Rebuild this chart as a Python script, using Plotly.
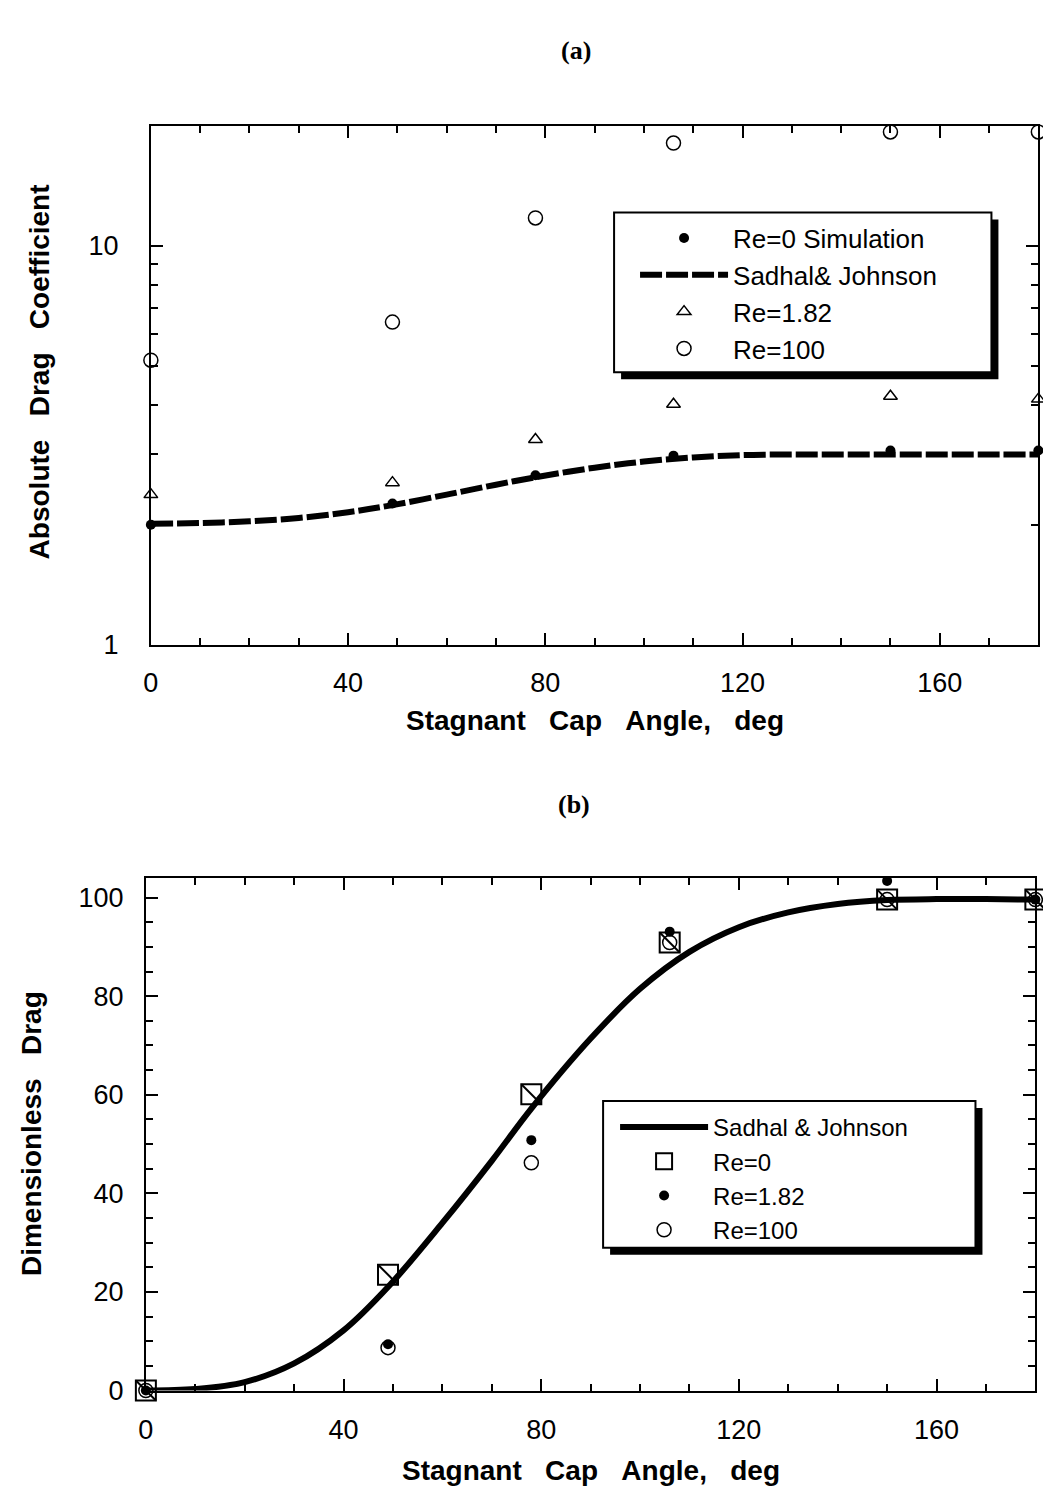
import plotly.graph_objects as go

# ---- data -------------------------------------------------------------
cap_angle = [0, 49, 78, 106, 150, 180]

# (a) absolute drag coefficient
cd_re0 = [2.00, 2.26, 2.66, 2.98, 3.07, 3.07]
cd_re182 = [2.38, 2.55, 3.27, 4.01, 4.20, 4.13]
cd_re100 = [5.17, 6.44, 11.75, 18.1, 19.3, 19.3]

sj_angle = [0, 10, 20, 30, 40, 49, 60, 70, 78, 90, 100, 110, 120, 130, 140, 150, 160, 170, 180]
sj_cd = [2.01, 2.02, 2.04, 2.08, 2.15, 2.24, 2.38, 2.52, 2.63, 2.78, 2.88, 2.95, 2.99, 3.00,
         3.00, 3.00, 3.00, 3.00, 3.00]

# (b) dimensionless drag
dd_re0 = [0, 23.5, 60.1, 90.9, 99.6, 99.6]
dd_re182 = [0, 9.4, 50.8, 93.1, 103.4, 99.6]
dd_re100 = [0, 8.7, 46.2, 90.9, 99.6, 99.6]
sj_drag = [0, 0.3, 1.7, 5.5, 12.2, 21.0, 34.0, 46.6, 57.2, 71.4, 81.5, 89.0, 94.0, 97.0,
           98.7, 99.5, 99.7, 99.7, 99.6]

FONT = "Liberation Sans, Arial, Helvetica, sans-serif"
SERIF = "Liberation Serif, Times New Roman, serif"
W, H = 1043, 1489


def px(x):
    """horizontal page pixel -> paper fraction"""
    return ((x - 5.9) / 0.994) / W


def py(y):
    """vertical page pixel (from top) -> paper fraction"""
    return 1 - ((y + 1) / 0.9917) / H


fig = go.Figure()

# ---- panel (a) --------------------------------------------------------
fig.add_trace(go.Scatter(x=cap_angle, y=cd_re0, mode="markers", name="Re=0 Simulation",
                         marker=dict(symbol="circle", size=10, color="black"),
                         xaxis="x", yaxis="y", legend="legend", cliponaxis=False))
fig.add_trace(go.Scatter(x=sj_angle, y=sj_cd, mode="lines", name="Sadhal& Johnson",
                         line=dict(color="black", width=6, dash="22px,4px", shape="spline"),
                         xaxis="x", yaxis="y", legend="legend", cliponaxis=False))
fig.add_trace(go.Scatter(x=cap_angle, y=cd_re182, mode="markers", name="Re=1.82",
                         marker=dict(symbol="triangle-up-open", size=12, color="black",
                                     line=dict(width=1.5)),
                         xaxis="x", yaxis="y", legend="legend", cliponaxis=False))
fig.add_trace(go.Scatter(x=cap_angle, y=cd_re100, mode="markers", name="Re=100",
                         marker=dict(symbol="circle-open", size=14, color="black",
                                     line=dict(width=1.5)),
                         xaxis="x", yaxis="y", legend="legend", cliponaxis=False))

# ---- panel (b) --------------------------------------------------------
fig.add_trace(go.Scatter(x=sj_angle, y=sj_drag, mode="lines", name="Sadhal & Johnson",
                         line=dict(color="black", width=6, shape="spline"),
                         xaxis="x2", yaxis="y2", legend="legend2", cliponaxis=False))
fig.add_trace(go.Scatter(x=cap_angle, y=dd_re0, mode="markers", name="Re=0",
                         legendgroup="re0",
                         marker=dict(symbol="square-open", size=20, color="black",
                                     line=dict(width=2)),
                         xaxis="x2", yaxis="y2", legend="legend2", cliponaxis=False))
fig.add_trace(go.Scatter(x=cap_angle, y=dd_re0, mode="markers", name="Re=0",
                         legendgroup="re0", showlegend=False,
                         marker=dict(symbol="line-nw", size=20, color="black",
                                     line=dict(width=2, color="black")),
                         xaxis="x2", yaxis="y2", legend="legend2", cliponaxis=False))
fig.add_trace(go.Scatter(x=cap_angle, y=dd_re182, mode="markers", name="Re=1.82",
                         marker=dict(symbol="circle", size=10, color="black"),
                         xaxis="x2", yaxis="y2", legend="legend2", cliponaxis=False))
fig.add_trace(go.Scatter(x=cap_angle, y=dd_re100, mode="markers", name="Re=100",
                         marker=dict(symbol="circle-open", size=14, color="black",
                                     line=dict(width=1.5)),
                         xaxis="x2", yaxis="y2", legend="legend2", cliponaxis=False))

axis_common = dict(showline=True, linecolor="black", linewidth=2, mirror="ticks",
                   ticks="inside", ticklen=12, tickwidth=2, tickcolor="black",
                   showgrid=False, zeroline=False,
                   tickfont=dict(family=FONT, size=27, color="black"))
minor_common = dict(ticks="inside", ticklen=7, tickwidth=1.5, tickcolor="black")

legend_common = dict(xanchor="left", yanchor="top", bgcolor="rgba(0,0,0,0)",
                     borderwidth=0, itemwidth=88, tracegroupgap=0)

fig.update_layout(
    width=W, height=H,
    margin=dict(l=0, r=0, t=0, b=0),
    paper_bgcolor="white", plot_bgcolor="white",
    xaxis=dict(domain=[px(149), px(1038)], range=[0, 180], anchor="y",
               tickvals=[0, 40, 80, 120, 160], ticklabelstandoff=13,
               minor=dict(dtick=10, **minor_common), **axis_common),
    yaxis=dict(domain=[py(645), py(125)], type="log", range=[0, 1.30103],
               anchor="x", tickvals=[1, 10], ticktext=["1", "10"], ticklabelstandoff=25,
               minor=dict(tickvals=[2, 3, 4, 5, 6, 7, 8, 9, 20], **minor_common),
               **axis_common),
    xaxis2=dict(domain=[px(144), px(1035)], range=[0, 180], anchor="y2",
                tickvals=[0, 40, 80, 120, 160], ticklabelstandoff=14,
                minor=dict(dtick=5 * 2, **minor_common), **axis_common),
    yaxis2=dict(domain=[py(1392), py(878.5)], range=[0, 104], anchor="x2",
                tickvals=[0, 20, 40, 60, 80, 100], ticklabelstandoff=15,
                minor=dict(dtick=5, **minor_common), **axis_common),
    legend=dict(x=px(634), y=py(214), font=dict(family=FONT, size=26, color="black"),
                **legend_common),
    legend2=dict(x=px(614), y=py(1106), font=dict(family=FONT, size=24, color="black"),
                 **legend_common),
    showlegend=True,
)

# legend frames with drop shadows
for (x0, y0, x1, y1) in [(613, 212, 991, 372), (602, 1102, 975, 1249)]:
    fig.add_shape(type="rect", xref="paper", yref="paper", layer="above",
                  x0=px(x0 + 7), x1=px(x1 + 7), y0=py(y1 + 7), y1=py(y0 + 7),
                  fillcolor="black", line=dict(width=0))
    fig.add_shape(type="rect", xref="paper", yref="paper", layer="above",
                  x0=px(x0), x1=px(x1), y0=py(y1), y1=py(y0),
                  fillcolor="white", line=dict(color="black", width=2))

# panel labels and axis titles
title_font = dict(family=FONT, size=28, color="black", weight="bold")
sp = "\u00a0\u00a0\u00a0"
xtitle = sp.join(["Stagnant", "Cap", "Angle,", "deg"])


def label(text, x, y, font, angle=0):
    fig.add_annotation(text=text, x=px(x), y=py(y), xref="paper", yref="paper",
                       xanchor="center", yanchor="middle", textangle=angle,
                       showarrow=False, font=font)


label("(a)", 575, 50, dict(family=SERIF, size=26, color="black", weight="bold"))
label("(b)", 573, 805, dict(family=SERIF, size=26, color="black", weight="bold"))
label(xtitle, 594, 721, title_font)
label(xtitle, 590, 1472, title_font)
label(sp.join(["Absolute", "Drag", "Coefficient"]), 37, 372, title_font, -90)
label(sp.join(["Dimensionless", "Drag"]), 30, 1135, title_font, -90)

fig.write_html("out.html")
